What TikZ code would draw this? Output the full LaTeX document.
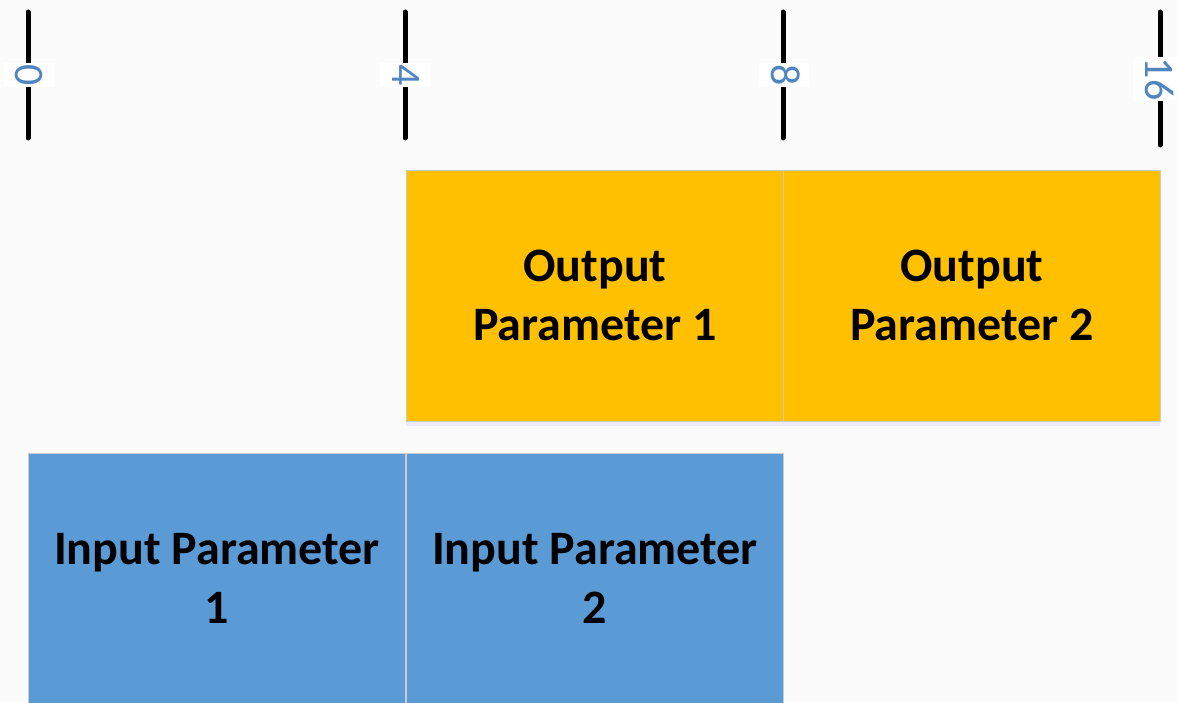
\documentclass[tikz,border=0pt]{standalone}
\usepackage{fontspec}
\setmainfont{Carlito}
\usetikzlibrary{shadows}
\definecolor{bg}{HTML}{FBFBFC}
\definecolor{outfill}{HTML}{FFC000}
\definecolor{infill}{HTML}{5B9BD5}
\definecolor{edgegray}{HTML}{C8CCD2}
\definecolor{ticklbl}{HTML}{4F86C0}
\begin{document}
\begin{tikzpicture}[x=1pt,y=-1pt,
  param/.style={draw=edgegray, line width=0.8pt, minimum width=377pt, minimum height=251pt,
    inner sep=0pt, align=center, font=\fontsize{48}{59}\selectfont\bfseries, text=black,
    anchor=north west, drop shadow={shadow xshift=0pt, shadow yshift=-5pt, opacity=0.06, fill=blue!50!black}},
  outbox/.style={param, fill=outfill},
  inbox/.style={param, fill=infill},
  tickline/.style={line width=5pt, line cap=round, black},
  ticklabel/.style={fill=white, rotate=-90, text=ticklbl, font=\fontsize{42}{50}\selectfont,
    inner xsep=1pt, inner ysep=12pt, text height=26pt, text depth=0pt}
]
\useasboundingbox (0,0) rectangle (1178,703);
\clip (0,0) rectangle (1178,703);
\fill[bg] (0,0) rectangle (1178,703);

% ticks
\coordinate (t0a) at (28,12);   \coordinate (t0b) at (28,138);
\coordinate (t4a) at (405,12);  \coordinate (t4b) at (405,138);
\coordinate (t8a) at (783,12);  \coordinate (t8b) at (783,138);
\coordinate (t16a) at (1160,12); \coordinate (t16b) at (1160,145);
\draw[tickline] (t0a) -- (t0b);
\draw[tickline] (t4a) -- (t4b);
\draw[tickline] (t8a) -- (t8b);
\draw[tickline] (t16a) -- (t16b);
\node[ticklabel] (l0) at (29,75) {0};
\node[ticklabel] (l4) at (405,75) {4};
\node[ticklabel] (l8) at (784,75) {8};
\node[ticklabel] (l16) at (1158,79) {16};

% boxes
\node[outbox] (out1) at (406,170) {Output\\Parameter 1};
\node[outbox] (out2) at (783,170) {Output\\Parameter 2};
\node[inbox] (in1) at (28,453) {Input Parameter\\1};
\node[inbox] (in2) at (406,453) {Input Parameter\\2};
\end{tikzpicture}
\end{document}
